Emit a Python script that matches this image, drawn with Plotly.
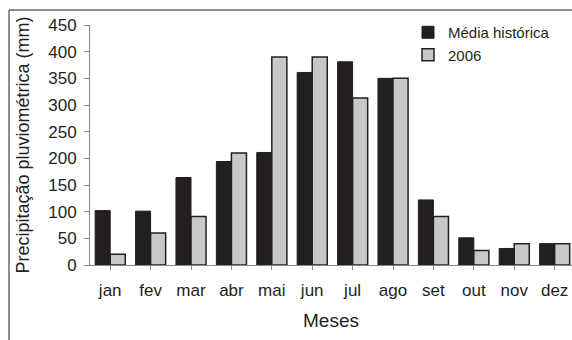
import plotly.graph_objects as go

months = ["jan", "fev", "mar", "abr", "mai", "jun", "jul", "ago", "set", "out", "nov", "dez"]
media_historica = [102, 101, 164, 194, 211, 361, 381, 350, 122, 51, 31, 40]
ano_2006 = [20, 60, 91, 210, 390, 390, 313, 350, 91, 27, 40, 40]
y_ticks = [0, 50, 100, 150, 200, 250, 300, 350, 400, 450]

W, H = 572, 340
L, R, T, B = 90, 0, 25, 75
pw = W - L - R
ph = H - T - B

fig = go.Figure()
fig.add_trace(go.Bar(x=list(range(len(months))), y=media_historica, name="Média histórica",
                     marker=dict(color="#231f20", line=dict(color="#231f20", width=1))))
fig.add_trace(go.Bar(x=list(range(len(months))), y=ano_2006, name="2006",
                     marker=dict(color="#c8c8c8", line=dict(color="#231f20", width=1.5))))

font_family = "Liberation Sans, Arial, sans-serif"
fig.update_layout(
    width=W, height=H,
    margin=dict(l=L, r=R, t=T, b=B, pad=0),
    paper_bgcolor="white", plot_bgcolor="white",
    barmode="group", bargap=0.255, bargroupgap=0,
    font=dict(family=font_family, color="#231f20"),
    showlegend=True,
    legend=dict(x=(408 - L) / pw, y=1.0 + 9 / ph, xanchor="left", yanchor="top",
                font=dict(size=15, color="#231f20"), bgcolor="rgba(0,0,0,0)",
                itemwidth=30, tracegroupgap=0),
    xaxis=dict(range=[-0.5, 11.43], tickmode="array", tickvals=list(range(len(months))),
               ticktext=months, tickson="boundaries", ticks="outside", ticklen=4,
               tickcolor="#888888", showline=True, linecolor="#888888", linewidth=1,
               showgrid=False, zeroline=False, tickfont=dict(size=17),
               ticklabelstandoff=6,
               title=dict(text="Meses", font=dict(size=19), standoff=14)),
    yaxis=dict(range=[0, 450], tickvals=y_ticks, ticks="outside", ticklen=5,
               tickcolor="#888888", showline=True, linecolor="#888888", linewidth=1,
               showgrid=False, zeroline=False, tickfont=dict(size=17),
               ticklabelstandoff=4,
               title=dict(text="Precipitação pluviométrica (mm)", font=dict(size=18), standoff=13)),
)

# outer frame (cropped at right and bottom in the original)
x0 = (9 - L) / pw
x1 = (575 - L) / pw
y_top = 1 + (T - 10) / ph
y_bot = -(H + 5 - T - ph) / ph
fig.add_shape(type="line", xref="paper", yref="paper", x0=x0, x1=x1, y0=y_top, y1=y_top,
              line=dict(color="#231f20", width=1))
fig.add_shape(type="line", xref="paper", yref="paper", x0=x0, x1=x0, y0=y_top, y1=y_bot,
              line=dict(color="#231f20", width=1))

fig.write_html("out.html")
